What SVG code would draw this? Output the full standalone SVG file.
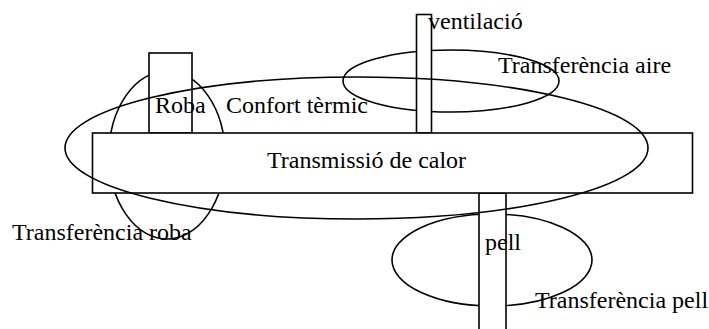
<svg xmlns="http://www.w3.org/2000/svg" width="709" height="329" viewBox="0 0 709 329">
  <style>
    .shape { fill: none; stroke: #000; stroke-width: 1.6; }
    .box { fill: #fff; stroke: #000; stroke-width: 1.6; }
    .lbl { font-family: "Liberation Serif", "Times New Roman", serif; font-size: 24px; fill: #000; }
  </style>
  <rect width="709" height="329" fill="#fff"/>

  <!-- Connectors: none drawn in this diagram -->
  <g id="connectors"></g>

  <!-- Transfer ellipses sit beneath their boxes -->
  <g id="transferencia-roba-shape">
    <ellipse class="shape" cx="167" cy="155" rx="58" ry="84"/>
  </g>
  <g id="transferencia-aire-shape">
    <ellipse class="shape" cx="451" cy="81" rx="108" ry="31"/>
  </g>
  <g id="transferencia-pell-shape">
    <ellipse class="shape" cx="492" cy="260" rx="100" ry="46"/>
  </g>

  <!-- Boxes -->
  <g id="roba">
    <rect class="box" x="149" y="53" width="43" height="80"/>
  </g>
  <g id="ventilacio">
    <rect class="box" x="416.5" y="14.5" width="15" height="118.5"/>
  </g>
  <g id="pell">
    <rect class="box" x="479" y="193" width="27" height="140"/>
  </g>
  <g id="transmissio">
    <rect class="box" x="92.5" y="133" width="600" height="60"/>
  </g>

  <!-- Outer comfort ellipse drawn over everything -->
  <g id="confort-termic">
    <ellipse class="shape" cx="356.5" cy="148" rx="291.5" ry="71"/>
  </g>

  <!-- Labels -->
  <g id="labels">
    <text class="lbl" x="155" y="113">Roba</text>
    <text class="lbl" x="226" y="113">Confort tèrmic</text>
    <text class="lbl" x="267" y="168">Transmissió de calor</text>
    <text class="lbl" x="428" y="29">ventilació</text>
    <text class="lbl" x="498" y="73">Transferència aire</text>
    <text class="lbl" x="12" y="240">Transferència roba</text>
    <text class="lbl" x="485" y="250">pell</text>
    <text class="lbl" x="535" y="308">Transferència pell</text>
  </g>
</svg>
